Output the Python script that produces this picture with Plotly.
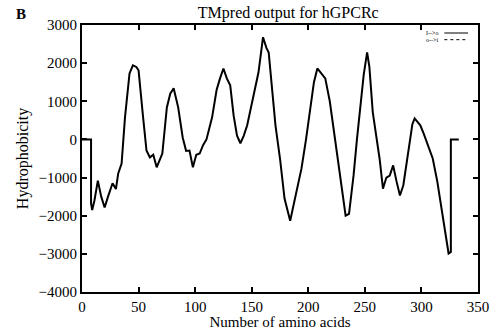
import plotly.graph_objects as go

# (position in sequence, hydrophobicity score)
residue = [0, 8, 8, 9, 11, 14, 17, 20, 23, 27, 30, 32, 35, 38, 42, 45, 48, 50, 54, 57,
           60, 63, 66, 69, 71, 75, 78, 81, 85, 89, 92, 95, 98, 101, 104, 107, 110, 115,
           119, 122, 125, 128, 131, 134, 137, 140, 143, 146, 151, 156, 160, 163, 165,
           168, 171, 175, 179, 184, 188, 191, 194, 198, 202, 205, 208, 212, 215, 219,
           222, 225, 228, 233, 236, 240, 243, 246, 249, 252, 254, 257, 260, 263, 266,
           269, 272, 275, 278, 281, 284, 287, 290, 292, 294, 297, 299, 302, 305, 308,
           310, 314, 317, 321, 324, 326, 326, 333]
score_io = [0, 0, -1680, -1850, -1600, -1080, -1500, -1785, -1500, -1150, -1300, -890,
            -630, 580, 1730, 1940, 1900, 1810, 580, -290, -470, -400, -730, -500, -370,
            840, 1200, 1340, 840, 50, -300, -290, -730, -400, -370, -150, 0, 580, 1300,
            1600, 1860, 1600, 1420, 630, 100, -100, 100, 370, 1075, 1760, 2680, 2400,
            2280, 1300, 370, -500, -1550, -2130, -1550, -1200, -760, 0, 810, 1500, 1860,
            1700, 1600, 1000, 370, -300, -950, -2000, -1950, -950, 0, 810, 1700, 2280,
            1900, 710, 100, -500, -1290, -1000, -950, -680, -1100, -1470, -1200, -600,
            -80, 400, 550, 450, 370, 150, -80, -300, -500, -1100, -1650, -2440, -2990,
            -2950, 0, 0]

x_ticks = [0, 50, 100, 150, 200, 250, 300, 350]
y_ticks = [-4000, -3000, -2000, -1000, 0, 1000, 2000, 3000]

FONT = "Liberation Serif"

fig = go.Figure()
fig.add_trace(go.Scatter(x=residue, y=score_io, mode="lines",
                         line=dict(color="black", width=2), name="I-->o",
                         showlegend=False))

axis_common = dict(showline=True, linecolor="black", linewidth=2, mirror="ticks",
                   ticks="inside", ticklen=5, tickcolor="black", tickwidth=1.5,
                   showgrid=False, zeroline=False, automargin=False,
                   tickfont=dict(family=FONT, size=15, color="black"))

fig.update_xaxes(range=[0, 350], tickvals=x_ticks,
                 title=dict(text="Number of amino acids", standoff=4,
                            font=dict(family=FONT, size=15, color="black")),
                 **axis_common)
fig.update_yaxes(range=[-4000, 3000], tickvals=y_ticks,
                 title=dict(text="Hydrophobicity", standoff=6,
                            font=dict(family=FONT, size=16, color="black")),
                 **axis_common)

fig.update_layout(
    width=497, height=330,
    margin=dict(l=82, r=19, t=25, b=38),
    paper_bgcolor="white", plot_bgcolor="white",
    title=dict(text="TMpred output for hGPCRc", x=0.58, xanchor="center",
               y=0.962, yanchor="middle",
               font=dict(family=FONT, size=16, color="black")),
    annotations=[
        dict(text="<b>B</b>", xref="paper", yref="paper", x=-0.155, y=1.041,
             xanchor="center", yanchor="middle", showarrow=False,
             font=dict(family=FONT, size=15, color="black")),
        dict(text="I-->o", xref="paper", yref="paper", x=0.905, y=0.97,
             xanchor="right", yanchor="middle", showarrow=False,
             font=dict(family=FONT, size=6, color="black")),
        dict(text="o-->i", xref="paper", yref="paper", x=0.905, y=0.945,
             xanchor="right", yanchor="middle", showarrow=False,
             font=dict(family=FONT, size=6, color="black")),
    ],
    shapes=[
        dict(type="line", xref="paper", yref="paper", x0=0.915, x1=0.975,
             y0=0.97, y1=0.97, line=dict(color="black", width=1)),
        dict(type="line", xref="paper", yref="paper", x0=0.915, x1=0.975,
             y0=0.945, y1=0.945, line=dict(color="black", width=1, dash="dot")),
    ],
)

fig.write_html("out.html", config={"displayModeBar": False},
               post_script="document.body.style.margin='0';")
